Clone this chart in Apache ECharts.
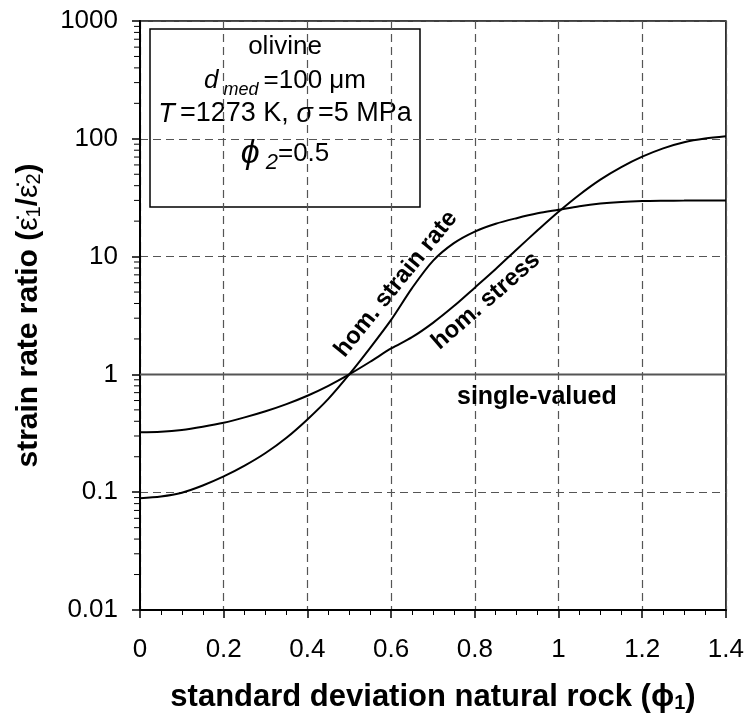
<!DOCTYPE html>
<html>
<head>
<meta charset="utf-8">
<script src="https://cdn.jsdelivr.net/npm/echarts@6/dist/echarts.min.js"></script>
<style>
  html, body { margin: 0; padding: 0; background: #fff; }
  #chart { width: 747px; height: 718px; }
</style>
</head>
<body>
<div id="chart"></div>
<script>
// standard deviation of the natural rock (phi_1)
const phi1 = [0, 0.05, 0.1, 0.15, 0.2, 0.25, 0.3, 0.35, 0.4, 0.45, 0.5, 0.55, 0.6, 0.65, 0.7,
              0.75, 0.8, 0.85, 0.9, 0.95, 1.0, 1.05, 1.1, 1.15, 1.2, 1.25, 1.3, 1.35, 1.4];
// strain rate ratio, homogeneous strain rate model
const homStrainRate = [0.089, 0.092, 0.099, 0.114, 0.136, 0.168, 0.215, 0.29, 0.415, 0.62, 1.0,
                       1.68, 2.9, 5.4, 9.2, 13, 16.3, 19, 21.2, 23.3, 25, 26.8, 28.2, 29.1, 29.6,
                       29.8, 29.9, 30, 30];
// strain rate ratio, homogeneous stress model
const homStress = [0.322, 0.326, 0.338, 0.36, 0.389, 0.432, 0.487, 0.56, 0.659, 0.8, 1.0,
                   1.28, 1.66, 2.07, 2.74, 3.8, 5.45, 7.85, 11.5, 16.7, 24, 33.5, 45, 57.5, 70.5,
                   83, 93.5, 100.5, 105];
// single-valued grain size distribution
const singleValuedX = [0, 1.4];
const singleValuedY = [1, 1];

const xTickLabels = ['0', '0.2', '0.4', '0.6', '0.8', '1', '1.2', '1.4'];
const yTickLabels = ['0.01', '0.1', '1', '10', '100', '1000'];

// log-decade minor tick positions (2..9 x 10^k)
const yMinorTicks = [];
for (let k = -2; k <= 2; k++) {
  for (let m = 2; m <= 9; m++) yMinorTicks.push([0, m * Math.pow(10, k)]);
}

const FONT = '"Liberation Sans", Arial, Helvetica, sans-serif';

const chart = echarts.init(document.getElementById('chart'), null, { renderer: 'canvas' });

const pairs = (xs, ys) => xs.map((x, i) => [x, ys[i]]);

chart.setOption({
  animation: false,
  backgroundColor: '#fff',
  textStyle: { fontFamily: FONT, color: '#000' },
  grid: {
    left: 140, right: 19, top: 21, bottom: 107,
    show: true, borderColor: '#000', borderWidth: 1.5, backgroundColor: 'transparent'
  },
  xAxis: {
    type: 'value', min: 0, max: 1.4, interval: 0.2,
    name: 'standard deviation natural rock (ϕ{s|1})',
    nameLocation: 'middle', nameGap: 72,
    nameTextStyle: {
      fontFamily: FONT, fontWeight: 'bold', fontSize: 31, color: '#000',
      rich: { s: { fontFamily: FONT, fontWeight: 'bold', fontSize: 20, verticalAlign: 'bottom', lineHeight: 22 } }
    },
    axisLine: { show: true, onZero: false, lineStyle: { color: '#000', width: 2 } },
    axisTick: { show: true, inside: false, length: 8, lineStyle: { color: '#000', width: 1.5 } },
    minorTick: { show: true, splitNumber: 4, length: 5, lineStyle: { color: '#000', width: 1 } },
    axisLabel: {
      margin: 27, fontFamily: FONT, fontSize: 26, color: '#000',
      formatter: (v) => xTickLabels[Math.round(v / 0.2)]
    },
    splitLine: { show: true, lineStyle: { color: '#555', type: [8, 5], width: 1.2 } }
  },
  yAxis: {
    type: 'log', logBase: 10, min: 0.01, max: 1000,
    name: 'strain rate ratio ({e|ε̇}{s|1}/{e|ε̇}{s|2})',
    nameLocation: 'middle', nameGap: 96, nameRotate: 90,
    nameTextStyle: {
      fontFamily: FONT, fontWeight: 'bold', fontSize: 30, color: '#000',
      rich: {
        e: { fontFamily: FONT, fontWeight: 'normal', fontSize: 30 },
        s: { fontFamily: FONT, fontWeight: 'normal', fontSize: 20, verticalAlign: 'bottom', lineHeight: 22 }
      }
    },
    axisLine: { show: true, onZero: false, lineStyle: { color: '#000', width: 2 } },
    axisTick: { show: true, inside: false, length: 8, lineStyle: { color: '#000', width: 1.5 } },
    axisLabel: {
      margin: 22, fontFamily: FONT, fontSize: 26, color: '#000',
      formatter: (v) => yTickLabels[Math.round(Math.log10(v)) + 2]
    },
    splitLine: { show: true, lineStyle: { color: '#555', type: [8, 5], width: 1.2 } }
  },
  series: [
    {
      // minor ticks of the log axis
      type: 'custom', silent: true, clip: false, z: 5,
      data: yMinorTicks,
      renderItem: (params, api) => {
        const p = api.coord([0, api.value(1)]);
        return {
          type: 'line',
          shape: { x1: p[0] - 6, y1: p[1], x2: p[0], y2: p[1] },
          style: { stroke: '#000', lineWidth: 1 }
        };
      }
    },
    {
      name: 'single-valued', type: 'line', data: pairs(singleValuedX, singleValuedY),
      showSymbol: false, lineStyle: { color: '#555', width: 2 }, z: 3
    },
    {
      name: 'hom. strain rate', type: 'line', data: pairs(phi1, homStrainRate),
      smooth: 0.3, showSymbol: false, lineStyle: { color: '#000', width: 2 }, z: 4
    },
    {
      name: 'hom. stress', type: 'line', data: pairs(phi1, homStress),
      smooth: 0.3, showSymbol: false, lineStyle: { color: '#000', width: 2 }, z: 4
    }
  ],
  graphic: [
    {
      type: 'group', z: 10,
      children: [
        {
          type: 'rect', shape: { x: 150, y: 29, width: 270, height: 178 },
          style: { fill: '#fff', stroke: '#000', lineWidth: 1.5 }
        },
        {
          type: 'text', x: 285, y: 47,
          style: { text: 'olivine', font: '26px ' + FONT, fill: '#000', align: 'center', verticalAlign: 'middle' }
        },
        {
          type: 'text', x: 285, y: 81,
          style: {
            text: '{i|d}{sub| med }{n|=100 μm}', align: 'center', verticalAlign: 'middle', fill: '#000',
            rich: {
              i: { font: 'italic 26px ' + FONT, lineHeight: 36, verticalAlign: 'middle' },
              sub: { font: 'italic 18px ' + FONT, lineHeight: 18, verticalAlign: 'bottom' },
              n: { font: '26px ' + FONT, lineHeight: 36, verticalAlign: 'middle' }
            }
          }
        },
        {
          type: 'text', x: 285, y: 114,
          style: {
            text: '{i|T\u2009}{n|=1273 K, }{i|σ\u2009}{n|=5 MPa}', align: 'center', verticalAlign: 'middle', fill: '#000',
            rich: {
              i: { font: 'italic 27px ' + FONT, lineHeight: 30 },
              n: { font: '27px ' + FONT, lineHeight: 30 }
            }
          }
        },
        {
          type: 'text', x: 285, y: 154,
          style: {
            text: '{p|ϕ}{sub| 2}{n|=0.5}', align: 'center', verticalAlign: 'middle', fill: '#000',
            rich: {
              p: { font: 'italic 34px ' + FONT, lineHeight: 40, verticalAlign: 'middle' },
              sub: { font: 'italic 22px ' + FONT, lineHeight: 22, verticalAlign: 'bottom' },
              n: { font: '26px ' + FONT, lineHeight: 40, verticalAlign: 'middle' }
            }
          }
        }
      ]
    },
    {
      type: 'text', x: 396, y: 284, rotation: 51 * Math.PI / 180, z: 10,
      style: { text: 'hom. strain rate', font: 'bold 24px ' + FONT, fill: '#000', align: 'center', verticalAlign: 'middle' }
    },
    {
      type: 'text', x: 486, y: 301, rotation: 41 * Math.PI / 180, z: 10,
      style: { text: 'hom. stress', font: 'bold 24px ' + FONT, fill: '#000', align: 'center', verticalAlign: 'middle' }
    },
    {
      type: 'text', x: 457, y: 397, z: 10,
      style: { text: 'single-valued', font: 'bold 25px ' + FONT, fill: '#000', align: 'left', verticalAlign: 'middle' }
    }
  ]
});
</script>
</body>
</html>
